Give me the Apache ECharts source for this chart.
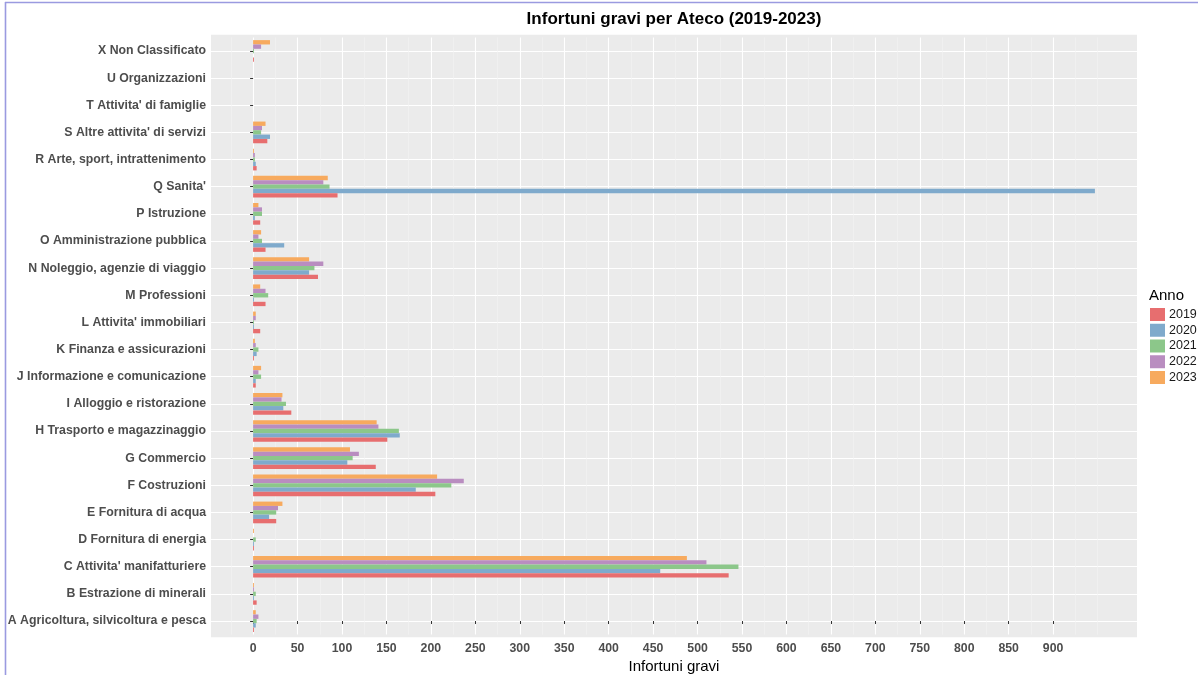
<!DOCTYPE html>
<html>
<head>
<meta charset="utf-8">
<script src="https://cdn.jsdelivr.net/npm/echarts@6/dist/echarts.min.js"></script>
<style>
  html, body { margin: 0; padding: 0; background: #fff; }
  #chart { width: 1198px; height: 675px; }
</style>
</head>
<body>
<div id="chart"></div>
<script>
// settori Ateco, dal basso verso l'alto
var categories = [
  'A Agricoltura, silvicoltura e pesca',
  'B Estrazione di minerali',
  "C Attivita' manifatturiere",
  'D Fornitura di energia',
  'E Fornitura di acqua',
  'F Costruzioni',
  'G Commercio',
  'H Trasporto e magazzinaggio',
  'I Alloggio e ristorazione',
  'J Informazione e comunicazione',
  'K Finanza e assicurazioni',
  "L Attivita' immobiliari",
  'M Professioni',
  'N Noleggio, agenzie di viaggio',
  'O Amministrazione pubblica',
  'P Istruzione',
  "Q Sanita'",
  'R Arte, sport, intrattenimento',
  "S Altre attivita' di servizi",
  "T Attivita' di famiglie",
  'U Organizzazioni',
  'X Non Classificato'
]
var years = ['2019', '2020', '2021', '2022', '2023']

var v2019 = [1, 4, 535, 1, 26, 205, 138, 151, 43, 3, 1, 8, 14, 73, 14, 8, 95, 4, 16, 0, 0, 1]
var v2020 = [3, 1, 458, 1, 18, 183, 106, 165, 34, 3, 4, 1, 1, 63, 35, 2, 947, 3, 19, 0, 0, 0]
var v2021 = [4, 3, 546, 3, 26, 223, 112, 164, 37, 9, 6, 1, 17, 69, 10, 10, 86, 2, 9, 0, 0, 1]
var v2022 = [6, 1, 510, 0, 28, 237, 119, 141, 32, 6, 3, 3, 14, 79, 6, 10, 79, 2, 10, 0, 0, 9]
var v2023 = [3, 1, 488, 1, 33, 207, 109, 139, 33, 9, 2, 3, 8, 63, 9, 6, 84, 1, 14, 0, 0, 19]

var majorTicks = [0, 50, 100, 150, 200, 250, 300, 350, 400, 450, 500, 550, 600, 650, 700, 750, 800, 850, 900]
var minorTicks = [-25, 25, 75, 125, 175, 225, 275, 325, 375, 425, 475, 525, 575, 625, 675, 725, 775, 825, 875, 925, 950]

var colors = ['#E76E6F', '#7FAACC', '#8CC78A', '#B98DC0', '#F7AA5E']
var seriesValues = [v2019, v2020, v2021, v2022, v2023]

var font = 'Liberation Sans, Arial, sans-serif'
var xMin = -47.35
var xMax = 994.35

var centers = categories.map(function (c, i) { return i })

var chart = echarts.init(document.getElementById('chart'))

// 2023 first so that 2019 sits at the bottom of each group
var series = years.map(function (y, i) {
  return {
    name: y,
    type: 'bar',
    xAxisIndex: 0,
    yAxisIndex: 0,
    data: seriesValues[i],
    barCategoryGap: '20%',
    barGap: '0%',
    itemStyle: { color: colors[i] },
    emphasis: { disabled: true }
  }
}).reverse()

chart.setOption({
  animation: false,
  color: colors,
  grid: { left: 211, right: 61, top: 37.4, bottom: 40.4, containLabel: false, outerBoundsMode: 'none' },
  graphic: [
    { type: 'rect', z: -10, silent: true,
      shape: { x: 211, y: 34.7, width: 926, height: 602.6 },
      style: { fill: '#EBEBEB' } },
    { type: 'line', silent: true,
      shape: { x1: 5, y1: 2.5, x2: 1198, y2: 2.5 },
      style: { stroke: '#9A9AE0', lineWidth: 1.6 } },
    { type: 'line', silent: true,
      shape: { x1: 5.5, y1: 2, x2: 5.5, y2: 675 },
      style: { stroke: '#9A9AE0', lineWidth: 1.6 } },
    { type: 'text', silent: true, x: 674, y: 19,
      style: { text: 'Infortuni gravi per Ateco (2019-2023)', font: 'bold 17px ' + font,
        fill: '#000', textAlign: 'center', textVerticalAlign: 'middle' } },
    { type: 'text', silent: true, x: 1149, y: 296,
      style: { text: 'Anno', font: '15px ' + font, fill: '#000',
        textAlign: 'left', textVerticalAlign: 'middle' } }
  ],
  legend: {
    orient: 'vertical',
    left: 1150,
    top: 308,
    padding: 0,
    itemWidth: 15,
    itemHeight: 13,
    itemGap: 2.75,
    icon: 'rect',
    selectedMode: false,
    data: years,
    textStyle: { fontFamily: font, fontSize: 12.5, color: '#1A1A1A', padding: [0, 0, 0, -1] }
  },
  xAxis: [
    {
      type: 'value',
      min: xMin,
      max: xMax,
      position: 'bottom',
      offset: 2.7,
      name: 'Infortuni gravi',
      nameLocation: 'middle',
      nameGap: 15,
      nameTextStyle: { fontFamily: font, fontSize: 15, color: '#000' },
      axisLine: { show: false },
      axisTick: { show: true, length: 3, customValues: majorTicks, lineStyle: { color: '#333', width: 1 } },
      axisLabel: { customValues: majorTicks, margin: 5, fontFamily: font, fontSize: 12.3, fontWeight: 'bold', color: '#4D4D4D' },
      splitLine: { show: true, lineStyle: { color: '#FFFFFF', width: 1.1 } }
    },
    {
      type: 'value',
      min: xMin,
      max: xMax,
      position: 'bottom',
      axisLine: { show: false },
      axisTick: { show: false, customValues: minorTicks },
      axisLabel: { show: false },
      splitLine: { show: true, lineStyle: { color: '#F4F4F4', width: 0.6 } }
    }
  ],
  yAxis: [
    {
      type: 'category',
      data: categories,
      axisLine: { show: false },
      axisTick: { show: true, alignWithLabel: true, length: 3, lineStyle: { color: '#333', width: 1 } },
      axisLabel: { margin: 5, fontFamily: font, fontSize: 12.3, fontWeight: 'bold', color: '#4D4D4D', interval: 0 },
      splitLine: { show: false }
    },
    {
      type: 'value',
      min: -0.5,
      max: categories.length - 0.5,
      position: 'left',
      axisLine: { show: false },
      axisTick: { show: false, customValues: centers },
      axisLabel: { show: false },
      splitLine: { show: true, lineStyle: { color: '#FFFFFF', width: 1.1 } }
    }
  ],
  series: series
})
</script>
</body>
</html>
